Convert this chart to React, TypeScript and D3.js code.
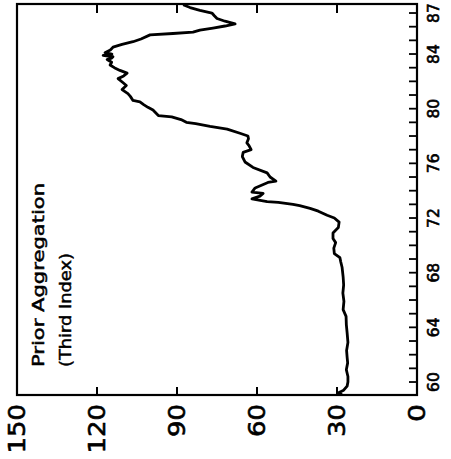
import React, { useEffect, useRef } from 'react';
import * as d3 from 'd3';

// Years (fractional) and index values
const years: number[] = [
  59.1, 59.2, 59.4, 59.7, 60.0, 60.4, 60.9, 61.4, 61.8, 62.3, 62.9, 63.6, 64.2, 64.8,
  65.3, 65.9, 66.5, 67.1, 67.7, 68.4, 68.8, 69.1, 69.4, 69.8, 70.2, 70.5, 70.9, 71.3,
  71.7, 72.0, 72.2, 72.5, 72.7, 72.9, 73.0, 73.15, 73.2, 73.4, 73.6, 73.8, 73.9, 74.2,
  74.6, 74.7, 75.0, 75.3, 75.7, 76.1, 76.5, 76.8, 77.0, 77.3, 77.5, 77.8, 78.0, 78.2,
  78.5, 78.7, 78.9, 79.0, 79.2, 79.4, 79.5, 79.9, 80.1, 80.3, 80.5, 80.6, 80.9, 81.1,
  81.4, 81.7, 81.9, 82.2, 82.4, 82.6, 82.8, 83.0, 83.2, 83.4, 83.6, 83.7, 83.8, 83.9,
  84.0, 84.1, 84.3, 84.5, 84.7, 84.9, 85.1, 85.4, 85.5, 85.6, 85.75, 85.9, 86.05, 86.2,
  86.4, 86.6, 86.8, 87.0, 87.2, 87.4, 87.6
];

const values: number[] = [
  28.1, 29.6, 27.5, 26.2, 25.9, 25.9, 26.5, 26.0, 26.2, 26.4, 25.9, 26.2, 26.5, 26.6,
  27.7, 27.4, 27.8, 27.5, 27.7, 28.1, 28.6, 28.9, 31.0, 31.2, 30.5, 31.5, 31.5, 29.5,
  29.2, 31.0, 33.7, 37.0, 40.1, 44.0, 46.5, 52.0, 56.2, 61.9, 58.9, 57.7, 61.9, 60.7,
  55.9, 52.9, 55.1, 56.2, 61.5, 64.5, 65.5, 65.2, 62.2, 63.0, 63.8, 63.2, 63.4, 66.4,
  71.2, 77.6, 83.0, 86.5, 88.5, 92.0, 97.0, 99.0, 100.9, 102.5, 103.9, 106.5, 107.5, 108.4,
  110.6, 109.0, 110.2, 112.1, 110.0, 108.7, 111.4, 113.5, 115.1, 114.5, 116.2, 114.5, 114.0, 117.7,
  114.4, 117.0, 115.0, 114.0, 110.6, 106.5, 103.5, 100.1, 91.5, 84.0, 81.4, 76.5, 72.0, 68.2,
  72.0, 75.0, 76.0, 76.9, 81.4, 85.1, 87.7
];

const valueTicks: number[] = [0, 30, 60, 90, 120, 150];
const yearLabels: number[] = [60, 64, 68, 72, 76, 80, 84, 87];
const yearTicks: number[] = d3.range(60, 88);
const titleLines: string[] = ['Prior  Aggregation', '(Third Index)'];

export default function App() {
  const svgRef = useRef<SVGSVGElement | null>(null);

  useEffect(() => {
    if (!svgRef.current) return;
    d3.select(svgRef.current).selectAll('*').remove();

    const width = 451;
    const height = 459;
    const frame = { left: 17, right: 417, top: 4, bottom: 395 };

    const svg = d3.select(svgRef.current)
      .attr('width', width)
      .attr('height', height)
      .style('font-family', '"DejaVu Sans", sans-serif');

    // the chart is drawn turned a quarter: values run right to left, years bottom to top
    const vScale = d3.scaleLinear().domain([0, 150]).range([frame.right, frame.left]);
    const tScale = d3.scaleLinear().domain([59.05, 87.66]).range([frame.bottom, frame.top]);

    svg.append('rect')
      .attr('x', frame.left)
      .attr('y', frame.top)
      .attr('width', frame.right - frame.left)
      .attr('height', frame.bottom - frame.top)
      .attr('fill', 'none')
      .attr('stroke', '#000')
      .attr('stroke-width', 2.2);

    // value ticks, inward from top and bottom edges
    const inner = valueTicks.filter(v => v > 0 && v < 150);
    inner.forEach(v => {
      svg.append('line')
        .attr('x1', vScale(v)).attr('x2', vScale(v))
        .attr('y1', frame.bottom).attr('y2', frame.bottom - 8)
        .attr('stroke', '#000').attr('stroke-width', 2);
      svg.append('line')
        .attr('x1', vScale(v)).attr('x2', vScale(v))
        .attr('y1', frame.top).attr('y2', frame.top + 9)
        .attr('stroke', '#000').attr('stroke-width', 2);
    });

    valueTicks.forEach(v => {
      const x = vScale(v) + 8;
      const y = frame.bottom + 9;
      svg.append('text')
        .attr('transform', `translate(${x},${y}) rotate(-90)`)
        .attr('text-anchor', 'end')
        .attr('font-size', 23)
        .attr('stroke', '#000')
        .attr('stroke-width', 0.6)
        .attr('textLength', String(v).length === 1 ? 18 : String(v).length * 16.5)
        .attr('lengthAdjust', 'spacingAndGlyphs')
        .text(v);
    });

    // year ticks on the right edge
    yearTicks.forEach(t => {
      svg.append('line')
        .attr('x1', frame.right).attr('x2', frame.right - 8)
        .attr('y1', tScale(t)).attr('y2', tScale(t))
        .attr('stroke', '#000').attr('stroke-width', 1.8);
    });

    yearLabels.forEach(t => {
      svg.append('text')
        .attr('transform', `translate(439,${tScale(t)}) rotate(-90)`)
        .attr('text-anchor', 'middle')
        .attr('font-size', 15.5)
        .attr('stroke', '#000')
        .attr('stroke-width', 0.6)
        .text(t);
    });

    // title, two rotated lines
    const titleLen = [184, 114];
    titleLines.forEach((s, i) => {
      svg.append('text')
        .attr('transform', `translate(${43.5 + i * 27},367) rotate(-90)`)
        .attr('text-anchor', 'start')
        .attr('font-size', 16.5)
        .attr('stroke', '#000')
        .attr('stroke-width', 0.5)
        .attr('textLength', titleLen[i])
        .attr('lengthAdjust', 'spacingAndGlyphs')
        .text(s);
    });

    const line = d3.line<number>()
      .x((_, i) => vScale(values[i]))
      .y(d => tScale(d));

    svg.append('path')
      .datum(years)
      .attr('fill', 'none')
      .attr('stroke', '#000')
      .attr('stroke-width', 2.8)
      .attr('stroke-linejoin', 'round')
      .attr('d', line);
  }, []);

  return (
    <svg ref={svgRef} style={{ position: 'absolute', left: 0, top: 0, background: '#fff' }}></svg>
  );
}
